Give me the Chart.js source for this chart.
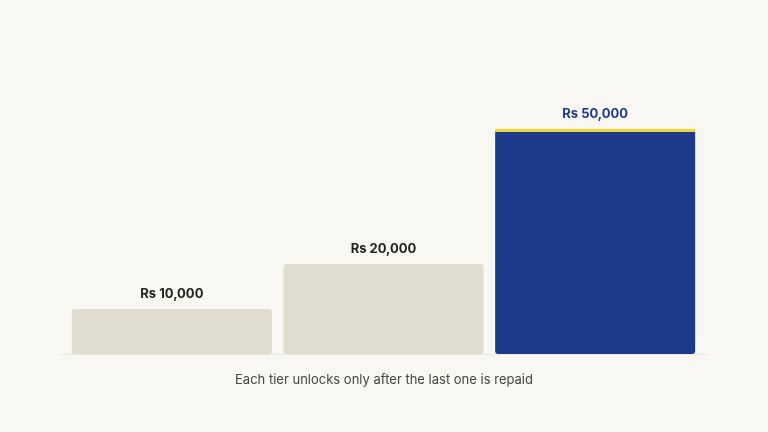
<!DOCTYPE html>
<html>
<head>
<meta charset="utf-8">
<script src="https://cdn.jsdelivr.net/npm/chart.js@4"></script>
<style>
  body { margin: 0; background: #f9f7f1; }
</style>
</head>
<body>
<canvas id="myChart" width="768" height="432"></canvas>
<script>
const tiers = ["Tier 1", "Tier 2", "Tier 3"];
const amounts = [10000, 20000, 50000];
const amountLabels = ["Rs 10,000", "Rs 20,000", "Rs 50,000"];
const caption = "Each tier unlocks only after the last one is repaid";

const barColors = ["#e0dccf", "#e0dccf", "#1d3b8b"];
const labelColors = ["#222222", "#222222", "#1d3b8b"];

// labels, yellow top strip, baseline and caption
const extras = {
  id: "extras",
  afterDatasetsDraw(chart) {
    const ctx = chart.ctx;
    const meta = chart.getDatasetMeta(0);
    const area = chart.chartArea;
    ctx.save();
    ctx.strokeStyle = "#ebe8de";
    ctx.lineWidth = 1;
    ctx.beginPath();
    ctx.moveTo(60, area.bottom + 0.5);
    ctx.lineTo(708, area.bottom + 0.5);
    ctx.stroke();

    meta.data.forEach((bar, i) => {
      if (i === 2) {
        ctx.fillStyle = "#f3d631";
        ctx.fillRect(bar.x - bar.width / 2, bar.y, bar.width, 3);
      }
      ctx.fillStyle = labelColors[i];
      ctx.font = "bold 13px Inter, 'Noto Sans', sans-serif";
      ctx.textAlign = "center";
      ctx.textBaseline = "bottom";
      ctx.fillText(amountLabels[i], bar.x, bar.y - 8);
    });

    ctx.fillStyle = "#444444";
    ctx.font = "13px Inter, 'Noto Sans', sans-serif";
    ctx.textAlign = "center";
    ctx.textBaseline = "middle";
    ctx.fillText(caption, 384, 380);
    ctx.restore();
  }
};

const ctx = document.getElementById("myChart").getContext("2d");
const myChart = new Chart(ctx, {
  type: "bar",
  data: {
    labels: tiers,
    datasets: [{
      data: amounts,
      backgroundColor: barColors,
      borderRadius: 3,
      borderSkipped: false,
      categoryPercentage: 1,
      barPercentage: 0.945,
    }],
  },
  options: {
    responsive: false,
    animation: false,
    layout: { padding: { left: 66, right: 67, top: 84, bottom: 78 } },
    plugins: { legend: { display: false }, tooltip: { enabled: false } },
    scales: {
      x: { display: false },
      y: { display: false, min: 0, max: 60000 },
    },
  },
  plugins: [extras],
});
</script>
</body>
</html>
